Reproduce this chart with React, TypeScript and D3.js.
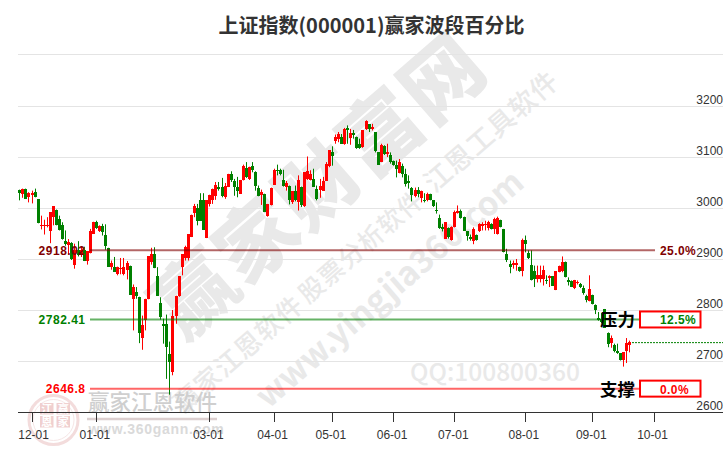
import React from "react";
import * as d3 from "d3";

const opens = [3037,3029,3039,3022,3027,3033,3018,2965,2965,2965,2956,2984,2998,2980,2967,2937,2929,2932,2890,2918,2908,2918,2898,2912,2950,2973,2955,2965,2949,2923,2885,2886,2872,2882,2871,2880,2888,2822,2837,2827,2746,2782,2822,2895,2910,2867,2815,2773,2773,2715,2679,2790,2829,2885,2903,2903,2944,2991,3001,3016,3016,2942,3009,3017,3025,3042,3042,3023,3042,3068,3054,3043,3029,3056,3080,3058,3084,3071,3041,3026,3029,2986,3006,3047,3076,3075,3056,3043,3045,3012,3035,3012,3043,3004,3058,3055,3058,3039,3037,3035,3054,3084,3110,3132,3137,3141,3127,3158,3139,3148,3141,3127,3120,3156,3165,3156,3150,3110,3091,3122,3106,3104,3094,3086,3069,3084,3068,3053,3041,3024,3037,3021,3017,3016,3029,3016,2998,2982,2963,2941,2962,2939,2963,2991,2996,2983,2956,2945,2937,2949,2956,2965,2967,2962,2970,2960,2950,2978,2960,2911,2891,2890,2890,2885,2877,2939,2913,2890,2878,2862,2862,2862,2859,2864,2867,2840,2875,2877,2896,2859,2857,2844,2853,2851,2844,2829,2818,2831,2810,2786,2784,2803,2755,2736,2733,2720,2716,2702,2721,2733];
const closes = [3030,3039,3019,3030,3031,3022,2971,2968,2968,2968,2993,3004,2968,2958,2941,2931,2934,2901,2918,2908,2918,2897,2916,2955,2974,2962,2965,2954,2927,2886,2893,2876,2886,2884,2886,2893,2831,2846,2829,2756,2771,2823,2906,2910,2883,2829,2787,2769,2728,2700,2790,2829,2867,2910,2924,2950,2988,3004,2975,2976,2958,3016,3027,3039,3047,3039,3025,3045,3068,3056,3042,3035,3056,3084,3062,3082,3075,3045,3024,3032,2993,3009,3041,3076,3073,3067,3045,3050,3016,3034,3017,3056,3006,3071,3073,3067,3043,3019,3045,3054,3088,3114,3103,3141,3146,3127,3156,3153,3148,3144,3119,3119,3154,3171,3156,3160,3112,3086,3124,3107,3110,3091,3086,3077,3092,3067,3048,3050,3026,3037,3029,3035,3014,3029,3017,3004,2997,2962,2960,2973,2944,2963,2993,2996,2982,2956,2947,2941,2960,2939,2970,2970,2970,2973,2960,2980,2982,2963,2914,2899,2885,2893,2894,2877,2939,2931,2903,2860,2862,2870,2870,2880,2857,2867,2849,2877,2888,2895,2865,2855,2847,2859,2855,2847,2834,2820,2842,2812,2801,2782,2777,2766,2735,2746,2720,2716,2702,2718,2736,2738];
const highs = [3037,3039,3039,3032,3035,3039,3018,2986,2978,2983,2993,3004,2998,2986,2973,2957,2940,2934,2931,2936,2925,2925,2916,2960,2974,2976,2967,2970,2969,2923,2898,2905,2886,2903,2903,2897,2888,2851,2846,2827,2790,2823,2906,2923,2924,2885,2826,2784,2792,2739,2801,2829,2867,2910,2927,2950,2988,3009,3009,3030,3030,3016,3027,3039,3052,3052,3060,3050,3068,3073,3058,3062,3056,3086,3091,3082,3091,3073,3045,3037,3029,3009,3041,3078,3086,3078,3076,3054,3045,3034,3045,3065,3043,3071,3102,3075,3078,3045,3058,3062,3091,3114,3122,3145,3150,3146,3158,3163,3156,3154,3141,3137,3154,3173,3165,3166,3150,3110,3127,3124,3127,3110,3094,3094,3097,3088,3078,3065,3042,3041,3042,3035,3030,3031,3029,3016,3012,2988,2970,2973,2963,2965,2996,3006,2998,2984,2956,2949,2963,2949,2971,2973,2976,2976,2971,2982,2984,2978,2960,2921,2898,2898,2901,2886,2941,2947,2918,2918,2888,2888,2888,2888,2869,2869,2867,2877,2888,2906,2896,2865,2859,2860,2859,2854,2849,2831,2869,2831,2812,2797,2795,2803,2757,2751,2735,2735,2716,2718,2746,2741];
const lows = [3016,3021,3019,3012,3010,3022,2971,2959,2949,2963,2932,2967,2967,2957,2939,2927,2911,2899,2882,2906,2905,2897,2890,2912,2950,2960,2954,2947,2919,2886,2880,2876,2869,2871,2869,2861,2831,2761,2823,2736,2723,2761,2822,2890,2883,2829,2782,2735,2666,2635,2673,2774,2827,2869,2898,2898,2944,2983,2967,2976,2958,2942,3004,3009,3017,3035,3022,3019,3042,3052,3025,3022,3029,3055,3060,3056,3071,3035,3024,3007,2993,2984,3006,3047,3065,3065,3043,3035,3008,3009,3014,2996,3003,3003,3056,3055,3043,3016,3021,3035,3054,3081,3084,3127,3130,3127,3125,3127,3125,3137,3117,3117,3119,3154,3150,3153,3110,3086,3091,3105,3101,3088,3084,3061,3069,3061,3043,3039,3014,3022,3022,3012,3012,3014,3016,3003,2990,2960,2955,2941,2941,2937,2963,2990,2980,2956,2937,2937,2930,2937,2954,2957,2957,2957,2959,2950,2949,2963,2914,2895,2873,2882,2878,2876,2867,2914,2901,2859,2846,2855,2855,2849,2852,2846,2849,2840,2875,2875,2865,2849,2846,2842,2851,2844,2831,2816,2818,2812,2793,2780,2775,2766,2728,2727,2718,2715,2702,2690,2697,2718];

const yTicks = [2600, 2700, 2800, 2900, 3000, 3100, 3200];
const topGrid = 3302;
const xTickIndex = [4, 25, 62, 83, 102, 122, 142, 165, 187, 207];
const xTickLabels = ["12-01", "01-01", "03-01", "04-01", "05-01", "06-01", "07-01", "08-01", "09-01", "10-01"];
const levelValues = [2918.02, 2782.41, 2646.8];
const levelLabels = ["2918.02", "2782.41", "2646.8"];
const levelPct = ["25.0%", "12.5%", "0.0%"];
const levelColors = ["#800000", "#008000", "#ff0000"];
const lastClose = 2737;
const title = "上证指数(000001)赢家波段百分比";

const CJK = "'Noto Sans CJK SC', sans-serif";
const LAT = "'Liberation Sans', Arial, sans-serif";
const WM = "#e9e9e9";

const x = d3.scaleLinear().domain([0, 199]).range([19.3, 629]);
const y = d3.scaleLinear().domain([2600, 3300]).range([412.5, 55.5]);

function Wm(p: { x: number; y: number; size: number; text: string; weight?: number; ls?: number; fill?: string; angle?: number }) {
  return (
    <text
      transform={`translate(${p.x},${p.y}) rotate(${p.angle ?? -41})`}
      textAnchor="middle"
      dominantBaseline="central"
      fontFamily={CJK}
      fontSize={p.size}
      fontWeight={p.weight ?? 500}
      letterSpacing={p.ls ?? 0}
      fill={p.fill ?? WM}
    >
      {p.text}
    </text>
  );
}

export default function App() {
  const left = 18;
  const right = 723;
  const lineL = 90;
  const lineR = 655;
  return (
    <svg width={726} height={450} style={{ position: "absolute", left: 0, top: 0, background: "#fff" }}>
      {/* watermarks */}
      <Wm x={315} y={181} size={80} text="赢家财富网" weight={900} ls={2} />
      <Wm x={237} y={352} size={26} text="赢家江恩软件" ls={1} />
      <Wm x={360} y={245} size={25} text="股票分析软件" ls={1} />
      <Wm x={490} y={130} size={27} text="江恩工具软件" ls={1} />
      <Wm x={388} y={287} size={33} text="www.yingjia360.com" weight={700} />
      <text x={410} y={381} fontFamily={CJK} fontSize={24.5} fontWeight={500} fill={WM}>QQ:100800360</text>

      {/* logo */}
      <g>
        <circle cx={53.5} cy={420} r={24.5} fill="none" stroke="#f3dcdc" strokeWidth={3} />
        <circle cx={53.5} cy={420} r={20.5} fill="none" stroke="#f6e6e6" strokeWidth={1} />
        {["江", "赢", "恩", "家"].map((c, i) => (
          <g key={c}>
            <rect x={40 + (i % 2) * 16.5} y={403 + Math.floor(i / 2) * 13} width={13.5} height={11.5} fill="#f0cfcf" />
            <text x={46.7 + (i % 2) * 16.5} y={413 + Math.floor(i / 2) * 13} textAnchor="middle" fontFamily={CJK} fontSize={11} fontWeight={700} fill="#fff">{c}</text>
          </g>
        ))}
      </g>
      <text x={88} y={410} fontFamily={CJK} fontSize={21.5} fontWeight={500} fill="#cfcfcf">赢家江恩软件</text>
      <line x1={87} x2={217} y1={419} y2={419} stroke="#dccfcf" strokeWidth={2.5} />
      <text x={88.5} y={434} fontFamily={LAT} fontSize={14} fontWeight={700} letterSpacing={0.7} fill="#dadada">www.360gann.com</text>

      {/* grid */}
      {[...yTicks.slice(1), topGrid].map((t) => (
        <line key={t} x1={left} x2={right} y1={y(t)} y2={y(t)} stroke="#e4e4e4" strokeWidth={1} />
      ))}
      <line x1={left} x2={right} y1={y(2600)} y2={y(2600)} stroke="#333" strokeWidth={1} />

      {/* candles */}
      {opens.map((o, i) => {
        const c = closes[i];
        const col = c >= o ? "#ff0000" : "#008000";
        const cx = Math.round(x(i));
        const top = Math.round(y(Math.max(o, c)));
        const bot = Math.round(y(Math.min(o, c)));
        return (
          <g key={i}>
            <rect x={cx} y={y(highs[i])} width={1} height={y(lows[i]) - y(highs[i])} fill={col} />
            <rect x={cx - 1} y={top} width={3} height={Math.max(bot - top, 1)} fill={col} />
          </g>
        );
      })}

      {/* level lines */}
      {levelValues.map((v, i) => (
        <line key={v} x1={lineL} x2={lineR} y1={y(v)} y2={y(v)} stroke={levelColors[i]} strokeOpacity={0.6} strokeWidth={2} />
      ))}
      <line x1={632} x2={723} y1={y(lastClose)} y2={y(lastClose)} stroke="#008000" strokeWidth={1} strokeDasharray="2 1" />

      {/* y axis labels */}
      {yTicks.map((t) => (
        <text key={t} x={723} y={y(t) - 3} textAnchor="end" fontFamily={LAT} fontSize={12} fill="#333">{t}</text>
      ))}

      {/* x axis */}
      {xTickIndex.map((t, i) => (
        <g key={t}>
          <line x1={Math.round(x(t)) + 0.5} x2={Math.round(x(t)) + 0.5} y1={412.5} y2={422} stroke="#333" strokeWidth={1} />
          <text x={i === 0 ? x(t) + 2 : x(t) - 1} y={439} textAnchor="middle" fontFamily={LAT} fontSize={12} fill="#333">{xTickLabels[i]}</text>
        </g>
      ))}

      {/* level value labels */}
      {levelValues.map((v, i) => (
        <text key={v} x={85.5} y={y(v) + 4.5} textAnchor="end" fontFamily={LAT} fontSize={12} fontWeight={700} letterSpacing={0.5} fill={levelColors[i]}>{levelLabels[i]}</text>
      ))}

      {/* boxes */}
      {[1, 2].map((i) => (
        <rect key={i} x={640} y={y(levelValues[i]) - 8} width={60.5} height={16} fill="#fff" stroke="#ff0000" strokeWidth={2} />
      ))}
      {levelValues.map((v, i) => (
        <text key={v} x={660} y={y(v) + 5} fontFamily={LAT} fontSize={12} fontWeight={700} letterSpacing={0.4} fill={levelColors[i]}>{levelPct[i]}</text>
      ))}
      <text x={600} y={y(levelValues[1]) + 7} fontFamily={CJK} fontSize={17.5} fontWeight={700} fill="#000">压力</text>
      <text x={600} y={y(levelValues[2]) + 7} fontFamily={CJK} fontSize={17.5} fontWeight={700} fill="#000">支撑</text>

      {/* title */}
      <text x={371.5} y={32.5} textAnchor="middle" fontFamily={CJK} fontSize={20} fontWeight={700} fill="#333">{title}</text>
    </svg>
  );
}
